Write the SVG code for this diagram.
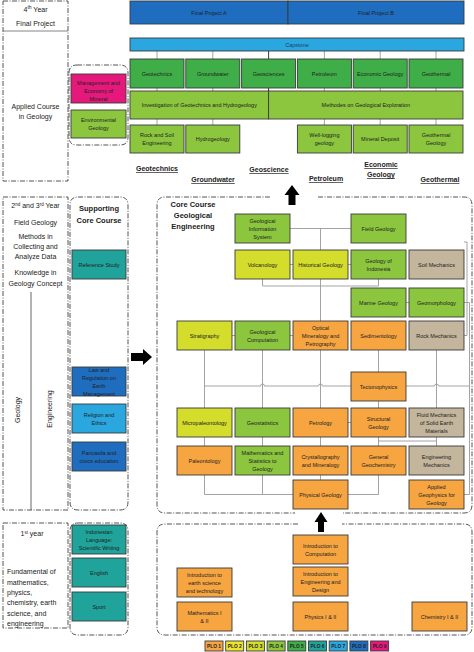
<svg xmlns="http://www.w3.org/2000/svg" width="474" height="652" viewBox="0 0 474 652">
<style>
.bx{stroke:#3a3a3a;stroke-width:0.9}
.o{fill:#f7a541}.y{fill:#d4dc2c}.g4{fill:#8cc63f}.g5{fill:#3fae49}.tn{fill:#c4b59d}.tl{fill:#1fa39a}.lb{fill:#2aa7df}.db{fill:#1e6dbf}.mg{fill:#e5197b}.y2{fill:#eee52a}
.bt{font-family:"Liberation Sans",Arial,sans-serif;font-size:5.5px;fill:#222;text-anchor:middle}
.lt{font-family:"Liberation Sans",Arial,sans-serif;font-size:7px;fill:#222;text-anchor:middle}
.hd{font-family:"Liberation Sans",Arial,sans-serif;font-size:7.5px;font-weight:bold;fill:#222;text-anchor:middle}
.ul{font-family:"Liberation Sans",Arial,sans-serif;font-size:7px;font-weight:bold;fill:#222;text-anchor:middle;text-decoration:underline}
.lg{font-family:"Liberation Sans",Arial,sans-serif;font-size:4.8px;font-weight:bold;fill:#222;text-anchor:middle}
.dash{fill:none;stroke:#555;stroke-width:1;stroke-dasharray:5 1.5 1 1.5}
.cn{fill:none;stroke:#9a9a9a;stroke-width:0.9}
.ar{fill:#000}
</style>

<!-- frames -->
<g id="frames">
<rect class="dash" x="3" y="1" width="65" height="180"/>
<line x1="3" y1="31" x2="68" y2="31" stroke="#666" stroke-width="0.8"/>
<path class="dash" d="M77,65 H120 Q128,65 128,73 V137 Q128,145 120,145 H77 Q69,145 69,137 V73 Q69,65 77,65 Z"/>
<rect class="dash" x="3" y="197" width="65" height="313"/>
<line x1="31" y1="292" x2="31" y2="510" stroke="#555" stroke-width="0.9"/>
<path class="dash" d="M78,197 H120 Q128,197 128,205 V502 Q128,510 120,510 H78 Q70,510 70,502 V205 Q70,197 78,197 Z"/>
<path class="dash" d="M270,197 H165 Q157,197 157,205 V505 Q157,513 165,513 H295"/>
<path class="dash" d="M318,197 H464 Q472,197 472,205 V505 Q472,513 464,513 H343"/>
<rect class="dash" x="3" y="523" width="65" height="105"/>
<path class="dash" d="M78,523 H120 Q128,523 128,531 V627 Q128,635 120,635 H78 Q70,635 70,627 V531 Q70,523 78,523 Z"/>
<path class="dash" d="M298,524 H165 Q157,524 157,532 V627 Q157,635 165,635 H464 Q472,635 472,627 V532 Q472,524 464,524 H342"/>
</g>

<!-- left texts -->
<g id="labels">
<text class="lt" x="35.5" y="12" font-size="8"><tspan>4</tspan><tspan dy="-3" font-size="5">th</tspan><tspan dy="3"> Year</tspan></text>
<text class="lt" x="35.5" y="26" font-size="5.5">Final Project</text>
<text class="lt" x="35.5" y="109" font-size="7.5">Applied Course</text>
<text class="lt" x="35.5" y="119" font-size="7.5">in Geology</text>
<text class="lt" x="35.5" y="208"><tspan>2</tspan><tspan dy="-2.5" font-size="4.5">nd</tspan><tspan dy="2.5"> and 3</tspan><tspan dy="-2.5" font-size="4.5">rd</tspan><tspan dy="2.5"> Year</tspan></text>
<text class="lt" x="35.5" y="225">Field Geology</text>
<text class="lt" x="35.5" y="239">Methods in</text>
<text class="lt" x="35.5" y="249">Collecting and</text>
<text class="lt" x="35.5" y="259">Analyze Data</text>
<text class="lt" x="35.5" y="275">Knowledge in</text>
<text class="lt" x="35.5" y="286">Geology Concept</text>
<text class="lt" font-size="8" transform="translate(19.5,410) rotate(-90)">Geology</text>
<text class="lt" font-size="8" transform="translate(51.5,409) rotate(-90)">Engineering</text>
<text class="lt" x="32" y="536" font-size="7.5"><tspan>1</tspan><tspan dy="-2.5" font-size="4.5">st</tspan><tspan dy="2.5"> year</tspan></text>
<g class="lt" font-size="7.5" text-anchor="start" style="text-anchor:start">
<text class="lt" style="text-anchor:start" font-size="7.5" x="7" y="574">Fundamental of</text>
<text class="lt" style="text-anchor:start" font-size="7.5" x="7" y="585">mathematics,</text>
<text class="lt" style="text-anchor:start" font-size="7.5" x="7" y="595">physics,</text>
<text class="lt" style="text-anchor:start" font-size="7.5" x="7" y="605">chemistry, earth</text>
<text class="lt" style="text-anchor:start" font-size="7.5" x="7" y="616">science, and</text>
<text class="lt" style="text-anchor:start" font-size="7.5" x="7" y="626">engineering</text>
</g>
<text class="hd" x="99" y="211">Supporting</text>
<text class="hd" x="99" y="223">Core Course</text>
<text class="hd" x="193" y="207">Core Course</text>
<text class="hd" x="193" y="218">Geological</text>
<text class="hd" x="193" y="229">Engineering</text>
<text class="ul" x="157" y="171">Geotechnics</text>
<text class="ul" x="213" y="182">Groundwater</text>
<text class="ul" x="269" y="172">Geoscience</text>
<text class="ul" x="326" y="181">Petroleum</text>
<text class="ul" x="381" y="167">Economic</text>
<text class="ul" x="381" y="177">Geology</text>
<text class="ul" x="440" y="182">Geothermal</text>
</g>

<!-- connectors -->
<g id="connectors">
<path class="cn" d="M157,51V59M212.8,51V59M324.4,51V59M380.2,51V59M436,51V59"/>
<path class="cn" d="M157,88V91M212.8,88V91M324.4,88V91M380.2,88V91M436,88V91"/>
<path class="cn" d="M157,119V125M212.8,119V125M324.4,119V125M380.2,119V125M436,119V125"/>
<path d="M268.6,51V91" stroke="#222" stroke-width="0.9"/>
<path class="cn" d="M290,228.5H351M320.5,228.5V250"/>
<path class="cn" d="M290,264.5H293M348,264.5H351"/>
<path class="cn" d="M262.5,279V286H378.5V279M320.5,279V321"/>
<path class="cn" d="M464,242H467V335.5H464"/>
<path class="cn" d="M464,302.5H469.5V494.5H464"/>
<path class="cn" d="M405,302.5H409M231,335.5H235M290,335.5H293"/>
<path class="cn" d="M204.5,386H260.5a2,2 0 0 1 4,0H318.5a2,2 0 0 1 4,0H434.5a2,2 0 0 1 4,0H469.5"/>
<path class="cn" d="M204.5,350V408M262.5,350V408M320.5,350V408M378.5,350V372M378.5,400V408M436.5,350V408"/>
<path class="cn" d="M348,422.5H351"/>
<path class="cn" d="M204.5,437V446M262.5,437V446M320.5,437V446M378.5,437V446M436.5,437V446M378.5,441H436.5"/>
<path class="cn" d="M204.5,475V494.5H293M262.5,475V494.5M320.5,475V480M378.5,475V494.5H348"/>
<polygon class="ar" points="292,185 299.5,195 295.5,195 295.5,205 288.5,205 288.5,195 284.5,195"/>
<polygon class="ar" points="152,357 143,349 143,353 131,353 131,361 143,361 143,365"/>
<polygon class="ar" points="321,512 327.5,522 324,522 324,532 318,532 318,522 314.5,522"/>
</g>

<!-- top nodes -->
<g id="final-project-a"><rect class="bx db" x="130" y="1" width="158" height="23"/><text class="bt" x="209" y="14.5">Final Project A</text></g>
<g id="final-project-b"><rect class="bx db" x="288" y="1" width="176" height="23"/><text class="bt" x="376" y="14.5">Final Project B</text></g>
<g id="capstone"><rect class="bx lb" x="130" y="38" width="334" height="13"/><text class="bt" x="297" y="46.5" style="fill:#1b3d6e">Capstone</text></g>
<g id="geotechnics"><rect class="bx g5" x="130" y="59" width="54" height="29"/><text class="bt" x="157" y="75.5">Geotechnics</text></g>
<g id="groundwater"><rect class="bx g5" x="185.8" y="59" width="54" height="29"/><text class="bt" x="212.8" y="75.5">Groundwater</text></g>
<g id="geosciences"><rect class="bx g5" x="241.6" y="59" width="54" height="29"/><text class="bt" x="268.6" y="75.5">Geosciences</text></g>
<g id="petroleum"><rect class="bx g5" x="297.4" y="59" width="54" height="29"/><text class="bt" x="324.4" y="75.5">Petroleum</text></g>
<g id="economic-geology"><rect class="bx g5" x="353.2" y="59" width="54" height="29"/><text class="bt" x="380.2" y="75.5">Economic Geology</text></g>
<g id="geothermal"><rect class="bx g5" x="409" y="59" width="54" height="29"/><text class="bt" x="436" y="75.5">Geothermal</text></g>
<g id="investigation"><rect class="bx g4" x="130" y="91" width="138.6" height="28"/><text class="bt" x="199.3" y="107">Investigation of Geotechnics and Hydrogeology</text></g>
<g id="methodes"><rect class="bx g4" x="268.6" y="91" width="194.4" height="28"/><text class="bt" x="365.8" y="107">Methodes on Geological Exploration</text></g>
<g id="rock-soil"><rect class="bx g4" x="130" y="125" width="54" height="28"/><text class="bt" x="157" y="137">Rock and Soil</text><text class="bt" x="157" y="145">Engineering</text></g>
<g id="hydrogeology"><rect class="bx g4" x="185.8" y="125" width="54" height="28"/><text class="bt" x="212.8" y="141">Hydrogeology</text></g>
<g id="well-logging"><rect class="bx g4" x="297.4" y="125" width="54" height="28"/><text class="bt" x="324.4" y="137">Well-logging</text><text class="bt" x="324.4" y="145">geology</text></g>
<g id="mineral-deposit"><rect class="bx g4" x="353.2" y="125" width="54" height="28"/><text class="bt" x="380.2" y="141">Mineral Deposit</text></g>
<g id="geothermal-geology"><rect class="bx g4" x="409" y="125" width="54" height="28"/><text class="bt" x="436" y="137">Geothermal</text><text class="bt" x="436" y="145">Geology</text></g>
<g id="management"><rect class="bx mg" x="71" y="74" width="55" height="29"/><text class="bt" x="98.5" y="84.5">Management and</text><text class="bt" x="98.5" y="92.5">Economy of</text><text class="bt" x="98.5" y="100.5">Mineral</text></g>
<g id="environmental"><rect class="bx g4" x="71" y="110" width="55" height="28"/><text class="bt" x="98.5" y="122">Environmental</text><text class="bt" x="98.5" y="130">Geology</text></g>

<!-- supporting -->
<g id="reference-study"><rect class="bx tl" x="72" y="250" width="54" height="29"/><text class="bt" x="99" y="266.5">Reference Study</text></g>
<g id="law"><rect class="bx db" x="72" y="367" width="54" height="29"/><text class="bt" x="99" y="371.5">Law and</text><text class="bt" x="99" y="379.5">Regulation on</text><text class="bt" x="99" y="387.5">Earth</text><text class="bt" x="99" y="395.5">Management</text></g>
<g id="religion"><rect class="bx lb" x="72" y="404" width="54" height="29"/><text class="bt" x="99" y="416.5">Religion and</text><text class="bt" x="99" y="424.5">Ethics</text></g>
<g id="pancasila"><rect class="bx db" x="72" y="442" width="54" height="29"/><text class="bt" x="99" y="454.5">Pancasila and</text><text class="bt" x="99" y="462.5">civics education</text></g>
<g id="indonesian"><rect class="bx tl" x="72" y="525" width="54" height="29"/><text class="bt" x="99" y="533.5">Indonesian</text><text class="bt" x="99" y="541.5">Language:</text><text class="bt" x="99" y="549.5">Scientific Writing</text></g>
<g id="english"><rect class="bx tl" x="72" y="558" width="54" height="29"/><text class="bt" x="99" y="574.5">English</text></g>
<g id="sport"><rect class="bx tl" x="72" y="592" width="54" height="29"/><text class="bt" x="99" y="608.5">Sport</text></g>

<!-- core nodes -->
<g id="gis"><rect class="bx g4" x="235" y="214" width="55" height="29"/><text class="bt" x="262.5" y="222.5">Geological</text><text class="bt" x="262.5" y="230.5">Information</text><text class="bt" x="262.5" y="238.5">System</text></g>
<g id="field-geology"><rect class="bx g4" x="351" y="214" width="55" height="29"/><text class="bt" x="378.5" y="230.5">Field Geology</text></g>
<g id="volcanology"><rect class="bx y" x="235" y="250" width="55" height="29"/><text class="bt" x="262.5" y="266.5">Volcanology</text></g>
<g id="historical-geology"><rect class="bx y" x="293" y="250" width="55" height="29"/><text class="bt" x="320.5" y="266.5">Historical Geology</text></g>
<g id="geology-indonesia"><rect class="bx g4" x="351" y="250" width="55" height="29"/><text class="bt" x="378.5" y="262.5">Geology of</text><text class="bt" x="378.5" y="270.5">Indonesia</text></g>
<g id="soil-mechanics"><rect class="bx tn" x="409" y="250" width="55" height="29"/><text class="bt" x="436.5" y="266.5">Soil Mechanics</text></g>
<g id="marine-geology"><rect class="bx g4" x="351" y="288" width="55" height="29"/><text class="bt" x="378.5" y="304.5">Marine Geology</text></g>
<g id="geomorphology"><rect class="bx g4" x="409" y="288" width="55" height="29"/><text class="bt" x="436.5" y="304.5">Geomorphology</text></g>
<g id="stratigraphy"><rect class="bx y" x="177" y="321" width="55" height="29"/><text class="bt" x="204.5" y="337.5">Stratigraphy</text></g>
<g id="geological-computation"><rect class="bx g4" x="235" y="321" width="55" height="29"/><text class="bt" x="262.5" y="333.5">Geological</text><text class="bt" x="262.5" y="341.5">Computation</text></g>
<g id="optical-mineralogy"><rect class="bx o" x="293" y="321" width="55" height="29"/><text class="bt" x="320.5" y="329.5">Optical</text><text class="bt" x="320.5" y="337.5">Mineralogy and</text><text class="bt" x="320.5" y="345.5">Petrography</text></g>
<g id="sedimentology"><rect class="bx o" x="351" y="321" width="55" height="29"/><text class="bt" x="378.5" y="337.5">Sedimentology</text></g>
<g id="rock-mechanics"><rect class="bx tn" x="409" y="321" width="55" height="29"/><text class="bt" x="436.5" y="337.5">Rock Mechanics</text></g>
<g id="tectonophysics"><rect class="bx o" x="351" y="372" width="55" height="29"/><text class="bt" x="378.5" y="388.5">Tectonophysics</text></g>
<g id="micropaleontology"><rect class="bx y" x="177" y="408" width="55" height="29"/><text class="bt" x="204.5" y="424.5">Micropaleontology</text></g>
<g id="geostatistics"><rect class="bx g4" x="235" y="408" width="55" height="29"/><text class="bt" x="262.5" y="424.5">Geostatistics</text></g>
<g id="petrology"><rect class="bx o" x="293" y="408" width="55" height="29"/><text class="bt" x="320.5" y="424.5">Petrology</text></g>
<g id="structural-geology"><rect class="bx o" x="351" y="408" width="55" height="29"/><text class="bt" x="378.5" y="420.5">Structural</text><text class="bt" x="378.5" y="428.5">Geology</text></g>
<g id="fluid-mechanics"><rect class="bx tn" x="409" y="408" width="55" height="29"/><text class="bt" x="436.5" y="416.5">Fluid Mechanics</text><text class="bt" x="436.5" y="424.5">of Solid Earth</text><text class="bt" x="436.5" y="432.5">Materials</text></g>
<g id="paleontology"><rect class="bx o" x="177" y="446" width="55" height="29"/><text class="bt" x="204.5" y="462.5">Paleontology</text></g>
<g id="math-stats"><rect class="bx g4" x="235" y="446" width="55" height="29"/><text class="bt" x="262.5" y="454.5">Mathematics and</text><text class="bt" x="262.5" y="462.5">Statistics to</text><text class="bt" x="262.5" y="470.5">Geology</text></g>
<g id="crystallography"><rect class="bx o" x="293" y="446" width="55" height="29"/><text class="bt" x="320.5" y="458.5">Crystallography</text><text class="bt" x="320.5" y="466.5">and Mineralogy</text></g>
<g id="general-geochemistry"><rect class="bx o" x="351" y="446" width="55" height="29"/><text class="bt" x="378.5" y="458.5">General</text><text class="bt" x="378.5" y="466.5">Geochemistry</text></g>
<g id="engineering-mechanics"><rect class="bx tn" x="409" y="446" width="55" height="29"/><text class="bt" x="436.5" y="458.5">Engineering</text><text class="bt" x="436.5" y="466.5">Mechanics</text></g>
<g id="physical-geology"><rect class="bx o" x="293" y="480" width="55" height="29"/><text class="bt" x="320.5" y="496.5">Physical Geology</text></g>
<g id="applied-geophysics"><rect class="bx o" x="409" y="480" width="55" height="29"/><text class="bt" x="436.5" y="488.5">Applied</text><text class="bt" x="436.5" y="496.5">Geophysics for</text><text class="bt" x="436.5" y="504.5">Geology</text></g>

<!-- first year nodes -->
<g id="intro-computation"><rect class="bx o" x="293" y="535" width="55" height="29"/><text class="bt" x="320.5" y="547.5">Introduction to</text><text class="bt" x="320.5" y="555.5">Computation</text></g>
<g id="intro-engineering"><rect class="bx o" x="293" y="567" width="55" height="29"/><text class="bt" x="320.5" y="575.5">Introduction to</text><text class="bt" x="320.5" y="583.5">Engineering and</text><text class="bt" x="320.5" y="591.5">Design</text></g>
<g id="physics"><rect class="bx o" x="293" y="602" width="55" height="29"/><text class="bt" x="320.5" y="618.5">Physics I &amp; II</text></g>
<g id="intro-earth"><rect class="bx o" x="177" y="568" width="55" height="29"/><text class="bt" x="204.5" y="576.5">Introduction to</text><text class="bt" x="204.5" y="584.5">earth science</text><text class="bt" x="204.5" y="592.5">and technology</text></g>
<g id="mathematics"><rect class="bx o" x="177" y="602" width="55" height="29"/><text class="bt" x="204.5" y="614.5">Mathematics I</text><text class="bt" x="204.5" y="622.5">&amp; II</text></g>
<g id="chemistry"><rect class="bx o" x="412" y="602" width="55" height="29"/><text class="bt" x="439.5" y="618.5">Chemistry I &amp; II</text></g>

<!-- legend -->
<g id="legend">
<rect class="bx o" x="205" y="641" width="18" height="10"/><text class="lg" x="214" y="647.8">PLO 1</text>
<rect class="bx y2" x="225.7" y="641" width="18" height="10"/><text class="lg" x="234.7" y="647.8">PLO 2</text>
<rect class="bx y" x="246.4" y="641" width="18" height="10"/><text class="lg" x="255.4" y="647.8">PLO 3</text>
<rect class="bx g4" x="267.1" y="641" width="18" height="10"/><text class="lg" x="276.1" y="647.8">PLO 4</text>
<rect class="bx g5" x="287.8" y="641" width="18" height="10"/><text class="lg" x="296.8" y="647.8">PLO 5</text>
<rect class="bx tl" x="308.5" y="641" width="18" height="10"/><text class="lg" x="317.5" y="647.8">PLO 6</text>
<rect class="bx lb" x="329.2" y="641" width="18" height="10"/><text class="lg" x="338.2" y="647.8">PLO 7</text>
<rect class="bx db" x="349.9" y="641" width="18" height="10"/><text class="lg" x="358.9" y="647.8">PLO 8</text>
<rect class="bx mg" x="370.6" y="641" width="18" height="10"/><text class="lg" x="379.6" y="647.8">PLO 9</text>
</g>
</svg>
